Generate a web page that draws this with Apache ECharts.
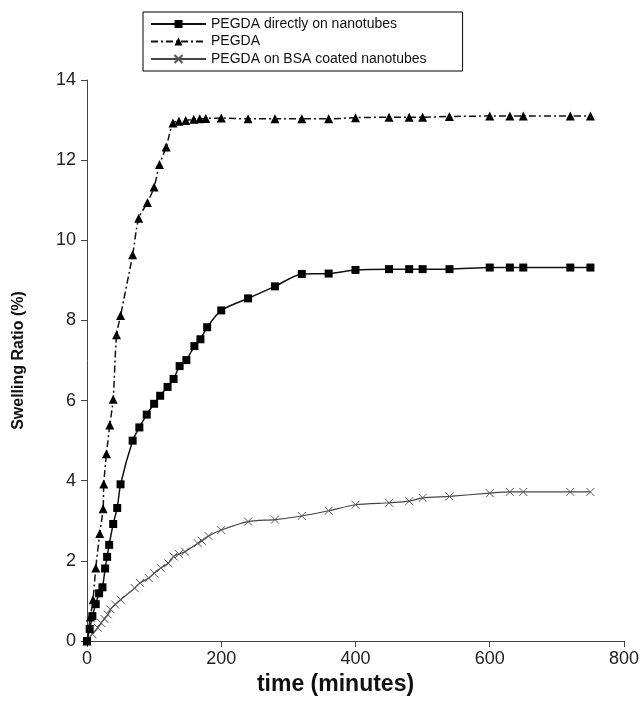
<!DOCTYPE html>
<html>
<head>
<meta charset="utf-8">
<script src="https://cdn.jsdelivr.net/npm/echarts@6/dist/echarts.min.js"></script>
<style>html,body{margin:0;padding:0;background:#fff;}#c{width:642px;height:701px;}</style>
</head>
<body>
<div id="c"></div>
<script>
// Data
const seriesNames = ['PEGDA directly on nanotubes', 'PEGDA', 'PEGDA on BSA coated nanotubes'];

const tNano = [0, 4, 8, 13, 18, 23, 27, 30, 33, 39, 45, 50, 68, 78, 89, 100, 109, 120, 129, 138, 148, 160, 169, 179, 200, 240, 280, 320, 360, 400, 450, 480, 500, 540, 600, 630, 650, 720, 750];
const vNano = [0, 0.3, 0.62, 0.92, 1.19, 1.34, 1.81, 2.1, 2.4, 2.92, 3.32, 3.91, 5.0, 5.33, 5.65, 5.92, 6.12, 6.34, 6.54, 6.86, 7.01, 7.36, 7.53, 7.83, 8.25, 8.55, 8.85, 9.16, 9.17, 9.26, 9.28, 9.28, 9.28, 9.28, 9.32, 9.32, 9.32, 9.32, 9.32];

const tPeg = [0, 5, 9, 13, 19, 24, 25, 29, 34, 39, 44, 50, 68, 77, 90, 100, 108, 118, 128, 137, 147, 159, 168, 177, 200, 240, 280, 320, 360, 400, 450, 480, 500, 540, 600, 630, 650, 720, 750];
const vPeg = [0, 0.6, 1.03, 1.82, 2.68, 3.3, 3.92, 4.67, 5.39, 6.03, 7.64, 8.12, 9.64, 10.55, 10.94, 11.33, 11.89, 12.33, 12.93, 12.97, 12.99, 13.02, 13.03, 13.04, 13.05, 13.03, 13.03, 13.03, 13.03, 13.06, 13.07, 13.07, 13.07, 13.09, 13.1, 13.1, 13.1, 13.1, 13.1];

const tBsa = [0, 8, 16, 21, 26, 31, 35, 42, 50, 71, 79, 92, 100, 110, 121, 129, 137, 146, 165, 171, 181, 200, 240, 280, 320, 360, 400, 450, 480, 500, 540, 600, 630, 650, 720, 750];
const vBsa = [0, 0.17, 0.33, 0.45, 0.55, 0.66, 0.79, 0.91, 1.03, 1.32, 1.45, 1.57, 1.69, 1.82, 1.94, 2.11, 2.17, 2.23, 2.44, 2.5, 2.62, 2.77, 2.98, 3.03, 3.12, 3.25, 3.4, 3.45, 3.49, 3.57, 3.61, 3.69, 3.72, 3.72, 3.72, 3.72];

const xTicks = [0, 200, 400, 600, 800];
const yTicks = [0, 2, 4, 6, 8, 10, 12, 14];

function pairs(t, v) { return t.map((x, i) => [x, v[i]]); }

const chart = echarts.init(document.getElementById('c'), null, {renderer: 'canvas'});
const font = 'Liberation Sans, Arial, sans-serif';
chart.setOption({
  backgroundColor: '#fff',
  animation: false,
  textStyle: {fontFamily: font},
  grid: {left: 87, right: 15, top: 80, bottom: 56, containLabel: false},
  legend: {
    orient: 'vertical', left: 143, top: 12,
    backgroundColor: '#fff',
    borderColor: '#000', borderWidth: 1,
    padding: [5, 36, 5, 7],
    itemGap: 3.5, itemWidth: 55, itemHeight: 10,
    textStyle: {fontFamily: font, fontSize: 14, lineHeight: 14, color: '#111'},
    data: seriesNames
  },
  xAxis: {
    type: 'value', min: 0, max: 800, interval: 200,
    name: 'time (minutes)', nameLocation: 'middle', nameGap: 32,
    nameTextStyle: {fontFamily: font, fontSize: 23, fontWeight: 'bold', color: '#111', padding: [0, 40, 0, 0]},
    axisLine: {lineStyle: {color: '#444', width: 1}},
    axisTick: {show: true, inside: false, length: 6, lineStyle: {color: '#444'}},
    axisLabel: {fontFamily: font, fontSize: 18, color: '#222', margin: 9,
      formatter: v => xTicks.includes(v) ? String(v) : ''},
    splitLine: {show: false}
  },
  yAxis: {
    type: 'value', min: 0, max: 14, interval: 2,
    name: 'Swelling Ratio (%)', nameLocation: 'middle', nameGap: 60, nameRotate: 90,
    nameTextStyle: {fontFamily: font, fontSize: 16, fontWeight: 'bold', color: '#111'},
    axisLine: {show: true, lineStyle: {color: '#444', width: 1}},
    axisTick: {show: true, inside: false, length: 6, lineStyle: {color: '#444'}},
    axisLabel: {fontFamily: font, fontSize: 18, color: '#222', margin: 11,
      formatter: v => yTicks.includes(v) ? String(v) : ''},
    splitLine: {show: false}
  },
  series: [
    {
      name: seriesNames[0], type: 'line', data: pairs(tNano, vNano),
      smooth: 0.25, symbol: 'rect', symbolSize: 8, showAllSymbol: true,
      itemStyle: {color: '#000'},
      lineStyle: {color: '#111', width: 1.5, type: 'solid'},
      z: 3
    },
    {
      name: seriesNames[1], type: 'line', data: pairs(tPeg, vPeg),
      smooth: 0.25, symbol: 'triangle', symbolSize: 9, showAllSymbol: true,
      itemStyle: {color: '#000'},
      lineStyle: {color: '#111', width: 1.5, type: [7, 3, 2, 3]},
      z: 4
    },
    {
      name: seriesNames[2], type: 'line', data: pairs(tBsa, vBsa),
      smooth: 0.25, symbol: 'path://M0,0L10,10M10,0L0,10', symbolSize: 8, showAllSymbol: true,
      itemStyle: {color: 'rgba(0,0,0,0)', borderColor: '#555', borderWidth: 1},
      lineStyle: {color: '#444', width: 1.2, type: 'solid'},
      z: 2
    }
  ]
});
</script>
</body>
</html>
